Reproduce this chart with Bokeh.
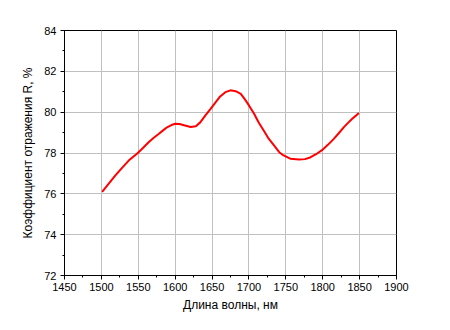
from bokeh.plotting import figure
from bokeh.models import Range1d, SingleIntervalTicker
from bokeh.embed import file_html
from bokeh.resources import INLINE

wavelength = [1501, 1510, 1519, 1528, 1537, 1549, 1557, 1564, 1571, 1578, 1584, 1589, 1595,
              1600, 1606, 1612, 1621, 1628, 1634, 1641, 1648, 1655, 1661, 1668, 1675, 1682,
              1689, 1695, 1700, 1707, 1713, 1720, 1727, 1734, 1741, 1747, 1756, 1768, 1776,
              1783, 1791, 1799, 1807, 1815, 1822, 1829, 1835, 1840, 1845, 1849]
reflectance = [76.1, 76.5, 76.9, 77.27, 77.63, 77.99, 78.27, 78.53, 78.75, 78.94, 79.12, 79.26, 79.37,
               79.43, 79.42, 79.36, 79.27, 79.31, 79.5, 79.84, 80.16, 80.49, 80.77, 80.98, 81.07, 81.03,
               80.9, 80.6, 80.33, 79.92, 79.51, 79.1, 78.69, 78.37, 78.04, 77.88, 77.72, 77.68, 77.7,
               77.78, 77.94, 78.14, 78.4, 78.69, 78.98, 79.28, 79.5, 79.68, 79.83, 79.96]

x_ticks_step = 50
y_ticks_step = 2

p = figure(width=434, height=314, output_backend="svg", toolbar_location=None,
           x_range=Range1d(1450, 1900), y_range=Range1d(72, 84),
           min_border_left=64, min_border_right=38, min_border_top=30, min_border_bottom=39)

p.line(wavelength, reflectance, line_color="#ff0000", line_width=2)

p.xaxis.ticker = SingleIntervalTicker(interval=x_ticks_step, num_minor_ticks=2)
p.yaxis.ticker = SingleIntervalTicker(interval=y_ticks_step, num_minor_ticks=2)

for ax in (p.xaxis[0], p.yaxis[0]):
    ax.axis_line_color = "black"
    ax.axis_line_width = 1
    ax.major_tick_line_color = "black"
    ax.minor_tick_line_color = "black"
    ax.major_tick_out = 4
    ax.major_tick_in = 0
    ax.minor_tick_out = 2
    ax.minor_tick_in = 0
    ax.major_label_text_font = "Liberation Sans"
    ax.major_label_text_font_size = "11px"
    ax.major_label_text_color = "black"
    ax.axis_label_text_font = "Liberation Sans"
    ax.axis_label_text_font_size = "12px"
    ax.axis_label_text_font_style = "normal"
    ax.axis_label_text_color = "black"

p.xaxis.axis_label = "Длина волны, нм"
p.yaxis.axis_label = "Коэффициент отражения R, %"
p.xaxis.major_label_standoff = 3
p.yaxis.major_label_standoff = 4
p.xaxis.axis_label_standoff = 4
p.yaxis.axis_label_standoff = 6

p.xgrid.grid_line_color = "#c0c0c0"
p.ygrid.grid_line_color = "#c0c0c0"
p.xgrid.grid_line_width = 1
p.ygrid.grid_line_width = 1

p.outline_line_color = "black"
p.outline_line_width = 1
p.outline_line_alpha = 1
p.background_fill_color = "white"
p.border_fill_color = "white"

open("out.html", "w").write(file_html(p, INLINE))
